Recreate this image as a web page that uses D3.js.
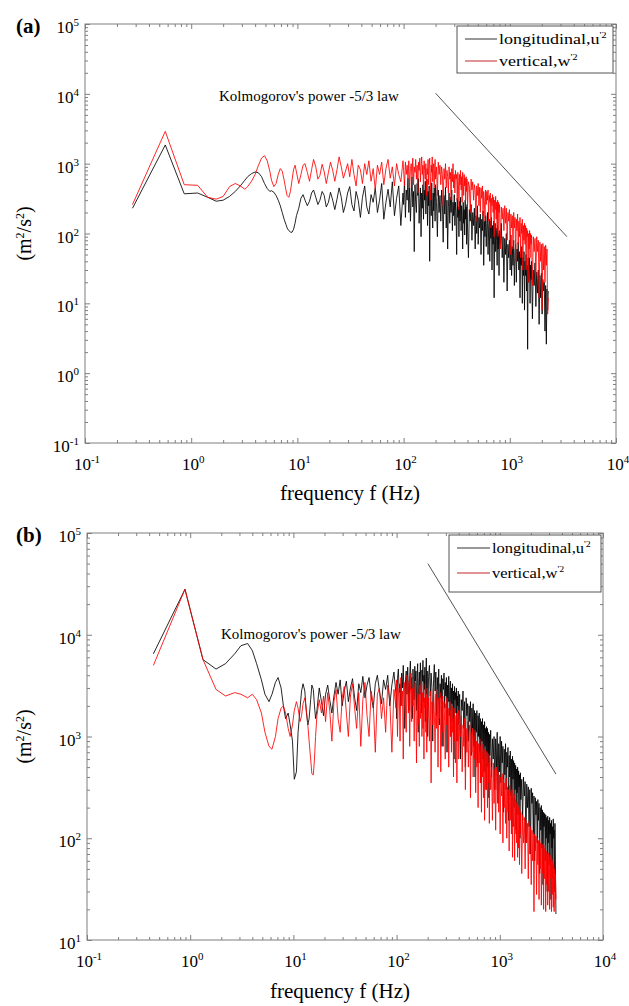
<!DOCTYPE html>
<html>
<head>
<meta charset="utf-8">
<script src="https://cdn.jsdelivr.net/npm/d3@7"></script>
<style>
  body { margin: 0; background: #fff; }
  svg, svg text { font-family: "Liberation Serif", "Times New Roman", Times, serif; }
</style>
</head>
<body>
<div id="container"></div>
<script>
// ---- panel (a): frequencies (Hz) shared by both spectra
const freqA = [
  0.28, 0.57, 0.86, 1.15, 1.43, 1.72, 2.0, 2.3, 2.6, 2.9,
  3.2, 3.4, 3.7, 4.0, 4.3, 4.6, 4.9, 5.2, 5.5, 5.7,
  6.0, 6.3, 6.6, 6.9, 7.2, 7.5, 7.8, 8.0, 8.3, 8.6,
  8.9, 9.2, 9.5, 9.8, 10.3, 10.8, 11.3, 11.8, 12.4, 13.0,
  13.6, 14.2, 14.9, 15.6, 16.3, 17.1, 17.9, 18.7, 19.6, 20.5,
  21.5, 22.5, 23.6, 24.7, 25.9, 27.1, 28.4, 29.7, 31.1, 32.6,
  34.1, 35.7, 37.4, 39.2, 41.0, 43.0, 45.0, 47.1, 49.4, 51.7,
  54.1, 56.7, 59.4, 62.2, 65.1, 68.2, 71.4, 74.8, 78.3, 82.0,
  85.9, 90.0, 94.2, 98.7, 100, 102, 104, 106, 108, 110,
  112, 114, 116, 118, 120, 122, 124, 126, 128, 130,
  132, 134, 136, 138, 140, 142, 144, 146, 148, 150,
  152, 154, 156, 158, 160, 162, 164, 166, 168, 170,
  172, 174, 176, 178, 180, 182, 184, 186, 188, 190,
  192, 194, 196, 198, 200, 204, 208, 212, 216, 220,
  224, 228, 232, 236, 240, 244, 248, 252, 256, 260,
  264, 268, 272, 276, 280, 284, 288, 292, 296, 300,
  304, 308, 312, 316, 320, 324, 328, 332, 336, 340,
  344, 348, 352, 356, 360, 364, 368, 372, 376, 380,
  384, 388, 392, 396, 400, 408, 416, 424, 432, 440,
  448, 456, 464, 472, 480, 488, 496, 504, 512, 520,
  528, 536, 544, 552, 560, 568, 576, 584, 592, 600,
  608, 616, 624, 632, 640, 648, 656, 664, 672, 680,
  688, 696, 704, 712, 720, 728, 736, 744, 752, 760,
  768, 776, 784, 792, 800, 816, 832, 848, 864, 880,
  896, 912, 928, 944, 960, 976, 992, 1008, 1024, 1040,
  1056, 1072, 1088, 1104, 1120, 1136, 1152, 1168, 1184, 1200,
  1216, 1232, 1248, 1264, 1280, 1296, 1312, 1328, 1344, 1360,
  1376, 1392, 1408, 1424, 1440, 1456, 1472, 1488, 1504, 1520,
  1536, 1552, 1568, 1584, 1600, 1632, 1664, 1696, 1728, 1760,
  1792, 1824, 1856, 1888, 1920, 1952, 1984, 2016, 2048, 2080,
  2112, 2144, 2176, 2208, 2240, 2272, 2300
];
// longitudinal u'^2 (m2/s2)
const longA = [
  230, 1850, 370, 380, 330, 290, 300, 340, 400, 480,
  580, 650, 720, 760, 740, 650, 520, 440, 400, 410,
  390, 350, 300, 250, 200, 160, 135, 120, 110, 105,
  104, 115, 140, 180, 230, 320, 360, 300, 250, 290,
  380, 420, 330, 260, 300, 400, 350, 240, 280, 390,
  300, 220, 310, 450, 330, 200, 260, 380, 470, 260,
  210, 400, 300, 170, 330, 480, 240, 190, 360, 280,
  450, 200, 300, 520, 160, 280, 430, 240, 550, 180,
  320, 480, 130, 380, 260, 560, 170, 420, 300, 620,
  200, 450, 150, 330, 650, 240, 400, 55, 500, 280,
  200, 520, 350, 610, 140, 280, 450, 90, 380, 230,
  500, 160, 420, 300, 560, 190, 340, 600, 130, 400,
  250, 480, 40, 300, 420, 180, 530, 250, 120, 380,
  210, 450, 330, 150, 500, 280, 90, 420, 200, 350,
  150, 420, 260, 75, 350, 190, 460, 120, 300, 60,
  240, 380, 140, 330, 200, 420, 110, 280, 180, 360,
  130, 280, 200, 50, 320, 170, 240, 90, 290, 150,
  330, 110, 250, 180, 60, 280, 140, 220, 95, 300,
  160, 240, 70, 260, 120, 45, 220, 150, 260, 80,
  200, 130, 230, 60, 180, 100, 250, 70, 170, 120,
  190, 50, 160, 110, 210, 35, 150, 90, 180, 65,
  140, 200, 50, 120, 160, 40, 150, 85, 170, 30,
  130, 70, 150, 12, 110, 140, 55, 120, 80, 35,
  130, 60, 100, 25, 110, 70, 140, 45, 90, 20,
  85, 50, 100, 15, 70, 45, 80, 30, 95, 25,
  65, 35, 80, 18, 55, 70, 20, 60, 40, 75,
  30, 55, 12, 50, 35, 65, 10, 45, 25, 55,
  8, 40, 25, 50, 15, 35, 2.2, 45, 20, 30,
  45, 10, 35, 22, 40, 6, 30, 18, 38, 9,
  28, 14, 30, 5, 25, 12, 27, 7, 22, 15,
  20, 4, 18, 2.6, 16, 8, 15
];
// vertical w'^2 (m2/s2)
const vertA = [
  260, 2900, 500, 490, 330, 310, 340, 470, 520, 480,
  430, 470, 560, 700, 950, 1200, 1300, 1100, 780, 580,
  470, 520, 700, 850, 780, 580, 420, 350, 330, 400,
  580, 820, 950, 760, 520, 700, 950, 1000, 750, 560,
  820, 1150, 900, 600, 680, 980, 760, 520, 750, 1050,
  800, 560, 820, 1250, 900, 620, 780, 1000, 650, 1150,
  700, 480, 950, 820, 520, 1000, 700, 1100, 560, 850,
  420, 950, 700, 1050, 500, 850, 1150, 620, 900, 480,
  1000, 700, 550, 1100, 800, 480, 1050, 700, 950, 600,
  1100, 450, 850, 1000, 650, 1200, 500, 900, 750, 1150,
  600, 950, 380, 1050, 800, 1200, 550, 900, 1250, 700,
  950, 420, 1100, 800, 600, 1000, 350, 850, 700, 1150,
  500, 900, 1200, 650, 300, 950, 750, 1250, 550, 850,
  1000, 450, 800, 1150, 600, 900, 350, 1050, 700, 950,
  500, 900, 700, 250, 850, 600, 1000, 450, 800, 650,
  380, 900, 600, 750, 300, 850, 550, 1000, 450, 700,
  380, 800, 600, 700, 300, 750, 550, 220, 700, 500,
  800, 420, 650, 280, 750, 550, 350, 700, 480, 620,
  300, 650, 400, 600, 250, 550, 480, 200, 600, 420,
  550, 300, 500, 420, 150, 480, 350, 520, 250, 460,
  200, 450, 320, 480, 180, 400, 300, 150, 420, 260,
  400, 300, 420, 150, 350, 280, 380, 120, 320, 250,
  360, 200, 330, 90, 300, 220, 340, 160, 280, 110,
  300, 90, 280, 200, 260, 60, 240, 160, 230, 110,
  250, 140, 230, 80, 200, 150, 220, 50, 190, 120,
  180, 60, 200, 120, 170, 40, 160, 110, 190, 70,
  150, 90, 170, 45, 140, 100, 160, 30, 130, 80,
  140, 70, 130, 30, 120, 90, 110, 20, 100, 60,
  110, 45, 100, 70, 95, 18, 90, 55, 85, 25,
  90, 55, 80, 12, 75, 40, 70, 8, 72, 30,
  65, 20, 68, 35, 60, 7, 12
];

// ---- panel (b)
const freqB = [
  0.44, 0.89, 1.33, 1.78, 2.2, 2.7, 3.1, 3.6, 4.0, 4.4,
  4.9, 5.3, 5.8, 6.2, 6.7, 7.1, 7.6, 8.0, 8.4, 8.9,
  9.3, 9.8, 10.2, 10.7, 11.1, 11.6, 12.0, 12.4, 12.9, 13.3,
  13.8, 14.2, 14.7, 15.1, 15.6, 16.0, 16.4, 16.9, 17.8, 18.7,
  19.6, 20.5, 21.5, 22.5, 23.6, 24.7, 25.9, 27.1, 28.4, 29.7,
  31.1, 32.6, 34.1, 35.7, 37.4, 39.2, 41.0, 43.0, 45.0, 47.1,
  49.4, 51.7, 54.1, 56.7, 59.4, 62.2, 65.1, 68.2, 71.4, 74.8,
  78.3, 82.0, 85.9, 90.0, 94.2, 98.7, 100, 102, 104, 106,
  108, 110, 112, 114, 116, 118, 120, 122, 124, 126,
  128, 130, 132, 134, 136, 138, 140, 142, 144, 146,
  148, 150, 152, 154, 156, 158, 160, 162, 164, 166,
  168, 170, 172, 174, 176, 178, 180, 182, 184, 186,
  188, 190, 192, 194, 196, 198, 200, 204, 208, 212,
  216, 220, 224, 228, 232, 236, 240, 244, 248, 252,
  256, 260, 264, 268, 272, 276, 280, 284, 288, 292,
  296, 300, 304, 308, 312, 316, 320, 324, 328, 332,
  336, 340, 344, 348, 352, 356, 360, 364, 368, 372,
  376, 380, 384, 388, 392, 396, 400, 408, 416, 424,
  432, 440, 448, 456, 464, 472, 480, 488, 496, 504,
  512, 520, 528, 536, 544, 552, 560, 568, 576, 584,
  592, 600, 608, 616, 624, 632, 640, 648, 656, 664,
  672, 680, 688, 696, 704, 712, 720, 728, 736, 744,
  752, 760, 768, 776, 784, 792, 800, 816, 832, 848,
  864, 880, 896, 912, 928, 944, 960, 976, 992, 1008,
  1024, 1040, 1056, 1072, 1088, 1104, 1120, 1136, 1152, 1168,
  1184, 1200, 1216, 1232, 1248, 1264, 1280, 1296, 1312, 1328,
  1344, 1360, 1376, 1392, 1408, 1424, 1440, 1456, 1472, 1488,
  1504, 1520, 1536, 1552, 1568, 1584, 1600, 1632, 1664, 1696,
  1728, 1760, 1792, 1824, 1856, 1888, 1920, 1952, 1984, 2016,
  2048, 2080, 2112, 2144, 2176, 2208, 2240, 2272, 2304, 2336,
  2368, 2400, 2432, 2464, 2496, 2528, 2560, 2592, 2624, 2656,
  2688, 2720, 2752, 2784, 2816, 2848, 2880, 2912, 2944, 2976,
  3008, 3040, 3072, 3104, 3136, 3168, 3200, 3232, 3264, 3296,
  3328, 3360, 3392, 3424, 3456, 3500
];
const longB = [
  6500, 28000, 5700, 4600, 5200, 6500, 7800, 8200, 7000, 5200,
  3600, 2600, 2200, 2600, 3400, 3800, 3000, 2000, 1500, 1700,
  1300, 900, 380, 450, 1100, 1900, 2800, 3300, 2800, 1800,
  1300, 1500, 2300, 3200, 2900, 2000, 1500, 1800, 3000, 2200,
  1600, 2600, 3200, 2300, 1700, 2500, 3400, 2600, 3600, 2000,
  2800, 3500, 2200, 3000, 3700, 2400, 1800, 3300, 2700, 3900,
  2400, 3200, 3800, 2500, 1900, 3300, 4000, 2800, 2100, 3600,
  2900, 4000, 2000, 3200, 4300, 2600, 1500, 3700, 4600, 2700,
  3300, 2000, 4200, 3000, 5000, 2400, 1200, 3600, 4400, 2600,
  4800, 3200, 1800, 4000, 5500, 2900, 3800, 1500, 4600, 3300,
  2300, 4900, 3500, 4400, 1800, 3800, 5200, 1100, 3400, 4300,
  2600, 5300, 3000, 1700, 4500, 3500, 5600, 2200, 4000, 2900,
  4800, 1400, 3800, 5900, 2600, 4400, 1000, 3900, 5000, 2500,
  4200, 3000, 900, 3600, 5100, 2800, 4300, 1600, 3800, 2300,
  4600, 1300, 3300, 2400, 4000, 800, 3700, 2900, 4200, 1900,
  3400, 2500, 3800, 700, 3200, 2200, 3900, 1600, 2900, 3500,
  1000, 3000, 2100, 3300, 1400, 2800, 600, 3100, 2300, 2700,
  1700, 3000, 900, 2500, 2000, 2800, 1300, 2600, 600, 2300,
  1800, 2800, 1200, 2200, 500, 2400, 1600, 2100, 900, 2000,
  1400, 2200, 650, 1900, 1200, 2100, 800, 1800, 400, 1700,
  1100, 1800, 550, 1600, 1000, 1700, 700, 1500, 350, 1400,
  900, 1500, 600, 1300, 450, 1400, 800, 1200, 300, 1250,
  700, 1200, 500, 1100, 250, 1050, 650, 1150, 400, 950,
  600, 1000, 300, 950, 500, 1100, 220, 850, 450, 1000,
  350, 900, 550, 800, 180, 750, 420, 850, 300, 700,
  500, 780, 150, 650, 400, 720, 260, 600, 130, 640,
  380, 580, 200, 550, 300, 520, 110, 480, 280, 500,
  170, 460, 320, 420, 100, 440, 240, 380, 150, 400,
  260, 360, 90, 340, 200, 320, 130, 300, 70, 310,
  220, 280, 110, 260, 60, 250, 170, 230, 90, 240,
  150, 220, 45, 200, 120, 210, 80, 190, 35, 180,
  130, 175, 60, 170, 100, 160, 30, 165, 90, 150,
  55, 160, 110, 140, 25, 150, 80, 130, 40, 155,
  100, 120, 30, 140, 60, 18
];
const vertB = [
  5000, 28000, 5700, 2900, 2500, 2700, 2600, 2400, 2600, 2300,
  1700, 1100, 800, 750, 1000, 1500, 1900, 2000, 1700, 1200,
  1000, 1300, 1800, 2200, 1900, 1400, 1600, 2100, 2400, 1900,
  1300, 900, 600, 430, 420, 600, 1000, 1600, 2300, 1700,
  2500, 1400, 2700, 1800, 900, 2200, 2900, 1500, 1100, 2400,
  3100, 1700, 1000, 2500, 3300, 1900, 1200, 2700, 800, 2300,
  3400, 1600, 1000, 2800, 2100, 700, 2600, 3000, 1500, 2400,
  1100, 3200, 2300, 700, 2900, 1900, 3600, 1000, 2500, 3000,
  900, 3800, 2000, 2800, 600, 2600, 3400, 1800, 1100, 4000,
  2900, 1700, 3500, 800, 2600, 4200, 1400, 3000, 2000, 3700,
  900, 2800, 3400, 1600, 550, 2400, 3100, 1300, 2600, 800,
  3200, 1500, 2200, 3800, 1000, 2700, 1200, 3400, 600, 2400,
  1900, 3300, 1100, 2600, 700, 3000, 1500, 2400, 900, 2800,
  350, 2200, 1300, 3100, 1800, 700, 2600, 1200, 2900, 500,
  2400, 1500, 2700, 450, 2000, 1100, 2500, 800, 2200, 1400,
  600, 2100, 1300, 2400, 800, 1900, 500, 1700, 2200, 1000,
  1800, 700, 2000, 1100, 1500, 400, 1900, 900, 1600, 550,
  1400, 1700, 350, 1500, 900, 1800, 600, 1300, 1000, 1600,
  450, 1300, 800, 1500, 300, 1200, 700, 1400, 500, 1100,
  1300, 250, 1100, 700, 1200, 400, 1000, 600, 1150, 280,
  900, 500, 1000, 200, 850, 550, 950, 350, 800, 180,
  700, 400, 850, 250, 750, 150, 650, 450, 720, 300,
  600, 200, 680, 350, 550, 140, 620, 300, 500, 150,
  550, 220, 480, 120, 500, 300, 450, 180, 420, 110,
  400, 260, 430, 90, 380, 200, 350, 140, 390, 100,
  320, 180, 300, 75, 330, 150, 280, 110, 300, 65,
  250, 130, 270, 60, 240, 120, 220, 90, 230, 65,
  200, 80, 210, 55, 190, 110, 180, 45, 170, 90,
  160, 50, 150, 90, 140, 40, 145, 70, 130, 35,
  120, 60, 115, 19, 110, 75, 105, 28, 100, 55,
  95, 25, 100, 50, 90, 22, 85, 45, 88, 20,
  80, 40, 85, 19, 75, 35, 70, 22, 72, 30,
  65, 20, 68, 40, 60, 19, 62, 28, 58, 21,
  55, 19, 50, 30, 45, 25
];

// Kolmogorov -5/3 reference lines
const kolFreqA = [200, 3450];
const kolPowA = [10200, 90];
const kolFreqB = [201, 3500];
const kolPowB = [50000, 427];

const legendLabels = [["longitudinal,u", "'2"], ["vertical,w", "'2"]];
const seriesColors = ["#000000", "#ff0000"];

const width = 629;
const height = 1006;
const serif = '"Liberation Serif", "Times New Roman", serif';

const svg = d3
  .select("#container")
  .append("svg")
  .attr("width", width)
  .attr("height", height)
  .attr("font-family", serif);

const axisColor = "#7f7f7f";

// label like 10^n
function powLabel(sel, exp) {
  sel.append("tspan").text("10");
  sel.append("tspan").attr("dy", -7).attr("font-size", 11).text(exp);
}

function isMajor(d) {
  const l = Math.log10(d);
  return Math.abs(l - Math.round(l)) < 1e-6;
}

function addText(g) {
  return g.append("text").attr("font-family", serif).attr("fill", "#000");
}

function drawPanel(p) {
  const x = d3.scaleLog().domain([0.1, 1e4]).range([p.left, p.right]);
  const y = d3.scaleLog().domain(p.yDomain).range([p.bottom, p.top]);
  const g = svg.append("g");

  const xMajor = x.ticks().filter(isMajor);
  const xMinor = x.ticks().filter((d) => !isMajor(d));
  const yMajor = y.ticks().filter(isMajor);
  const yMinor = y.ticks().filter((d) => !isMajor(d));

  // ticks on all four sides, pointing inwards
  const axes = [
    [d3.axisBottom(x), `translate(0,${p.bottom})`, xMajor, xMinor],
    [d3.axisTop(x), `translate(0,${p.top})`, xMajor, xMinor],
    [d3.axisLeft(y), `translate(${p.left},0)`, yMajor, yMinor],
    [d3.axisRight(y), `translate(${p.right},0)`, yMajor, yMinor],
  ];
  axes.forEach(([ax, tr, maj, min]) => {
    [[maj, -5], [min, -3]].forEach(([vals, size]) => {
      const a = g
        .append("g")
        .attr("transform", tr)
        .call(ax.tickValues(vals).tickSize(size).tickFormat(""));
      a.select(".domain").remove();
      a.selectAll("line").attr("stroke", axisColor);
    });
  });

  g.append("rect")
    .attr("x", p.left)
    .attr("y", p.top)
    .attr("width", p.right - p.left)
    .attr("height", p.bottom - p.top)
    .attr("fill", "none")
    .attr("stroke", axisColor)
    .attr("stroke-width", 1);

  // tick labels
  xMajor.forEach((d) => {
    const t = addText(g)
      .attr("x", x(d) + 2)
      .attr("y", p.bottom + 27)
      .attr("text-anchor", "middle")
      .attr("font-size", 17);
    powLabel(t, Math.round(Math.log10(d)));
  });
  yMajor.forEach((d) => {
    const t = addText(g)
      .attr("x", p.left - 6)
      .attr("y", y(d) + 9)
      .attr("text-anchor", "end")
      .attr("font-size", 17);
    powLabel(t, Math.round(Math.log10(d)));
  });

  // spectra
  const line = d3
    .line()
    .x((d) => x(d[0]))
    .y((d) => y(d[1]));
  [p.long, p.vert].forEach((vals, i) => {
    g.append("path")
      .datum(d3.zip(p.freq, vals))
      .attr("d", line)
      .attr("fill", "none")
      .attr("stroke", seriesColors[i])
      .attr("stroke-width", 0.85)
      .attr("stroke-linejoin", "round");
  });

  // -5/3 line
  g.append("path")
    .datum(d3.zip(p.kolFreq, p.kolPow))
    .attr("d", line)
    .attr("fill", "none")
    .attr("stroke", "#555")
    .attr("stroke-width", 1);
  addText(g)
    .attr("x", p.kolText[0])
    .attr("y", p.kolText[1])
    .attr("font-size", 15)
    .text("Kolmogorov's power -5/3 law");

  // legend (text is drawn a little wider than normal, as in the figure)
  const lg = p.legend;
  g.append("rect")
    .attr("x", lg.x)
    .attr("y", lg.y)
    .attr("width", lg.w)
    .attr("height", lg.h)
    .attr("fill", "#fff")
    .attr("stroke", "#555")
    .attr("stroke-width", 1);
  legendLabels.forEach((lab, i) => {
    const yy = lg.y + lg.row0 + i * lg.rowStep;
    g.append("line")
      .attr("x1", lg.x + 8)
      .attr("x2", lg.x + lg.lineLen)
      .attr("y1", yy)
      .attr("y2", yy)
      .attr("stroke", i === 0 ? "#333" : "#c0282d")
      .attr("stroke-width", 1);
    const t = addText(g)
      .attr("transform", `translate(${lg.x + lg.lineLen + 2},${yy + 5}) scale(${lg.stretch},1)`)
      .attr("font-size", 15);
    t.append("tspan").text(lab[0]);
    t.append("tspan").attr("dy", -6).attr("font-size", 9).text(lab[1]);
  });

  // panel letter
  addText(g)
    .attr("x", 16)
    .attr("y", p.top + 9)
    .attr("font-size", 21)
    .attr("font-weight", "bold")
    .text(p.letter);

  // axis titles
  addText(g)
    .attr("x", p.xTitleX)
    .attr("y", p.xTitleY)
    .attr("text-anchor", "middle")
    .attr("font-size", 21)
    .text("frequency f (Hz)");

  const yt = addText(g)
    .attr("transform", `translate(31,${(p.top + p.bottom) / 2}) rotate(-90)`)
    .attr("text-anchor", "middle")
    .attr("font-size", 20);
  yt.append("tspan").text("(m");
  yt.append("tspan").attr("dy", -7).attr("font-size", 12).text("2");
  yt.append("tspan").attr("dy", 7).text("/s");
  yt.append("tspan").attr("dy", -7).attr("font-size", 12).text("2");
  yt.append("tspan").attr("dy", 7).text(")");
}

drawPanel({
  letter: "(a)",
  left: 85, right: 616, top: 24, bottom: 443,
  yDomain: [0.1, 1e5],
  freq: freqA, long: longA, vert: vertA,
  kolFreq: kolFreqA, kolPow: kolPowA, kolText: [219, 101],
  legend: { x: 457, y: 26, w: 156, h: 47, row0: 13, rowStep: 22, lineLen: 40, stretch: 1.2 },
  xTitleX: 350, xTitleY: 500,
});

drawPanel({
  letter: "(b)",
  left: 87, right: 603, top: 533, bottom: 940,
  yDomain: [10, 1e5],
  freq: freqB, long: longB, vert: vertB,
  kolFreq: kolFreqB, kolPow: kolPowB, kolText: [221, 639],
  legend: { x: 449, y: 535, w: 152, h: 57, row0: 13, rowStep: 25, lineLen: 41, stretch: 1.1 },
  xTitleX: 340, xTitleY: 998,
});
</script>
</body>
</html>
